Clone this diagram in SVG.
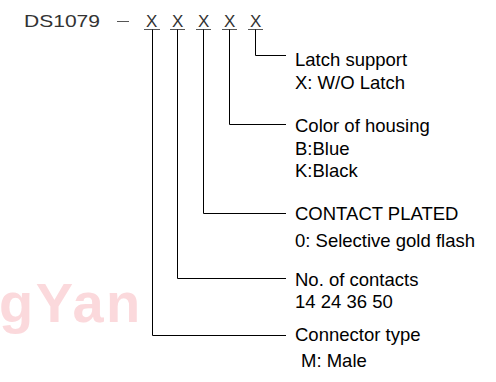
<svg xmlns="http://www.w3.org/2000/svg" width="496" height="382" viewBox="0 0 496 382">
<style>
.t{font-family:"Liberation Sans",Arial,sans-serif;font-size:18.5px;fill:#000}
.h{font-family:"Liberation Sans",Arial,sans-serif;font-size:17px;fill:#333}
.ln{stroke:#000;stroke-width:1;fill:none}
.ul{stroke:#555;stroke-width:1;fill:none}
.wm{font-family:"Liberation Sans",Arial,sans-serif;font-size:56px;font-weight:bold;fill:#fbd9dc;letter-spacing:2.5px}
</style>
<rect width="496" height="382" fill="#fff"/>
<text class="wm" x="-1" y="322">gYan</text>
<g id="header">
<text class="h" x="24" y="27" textLength="76" lengthAdjust="spacingAndGlyphs">DS1079</text>
<line class="ul" x1="117" y1="21.5" x2="129" y2="21.5"/>
<text class="h" x="146" y="27">X</text>
<text class="h" x="172" y="27">X</text>
<text class="h" x="198" y="27">X</text>
<text class="h" x="224" y="27">X</text>
<text class="h" x="250" y="27">X</text>
<line class="ul" x1="144" y1="29.5" x2="160" y2="29.5"/>
<line class="ul" x1="170" y1="29.5" x2="185" y2="29.5"/>
<line class="ul" x1="196" y1="29.5" x2="211" y2="29.5"/>
<line class="ul" x1="222" y1="29.5" x2="237" y2="29.5"/>
<line class="ul" x1="248" y1="29.5" x2="263" y2="29.5"/>
</g>
<g id="connectors">
<polyline class="ln" points="255.5,29.5 255.5,55.5 286,55.5"/>
<polyline class="ln" points="229.5,29.5 229.5,124.5 286,124.5"/>
<polyline class="ln" points="203.5,29.5 203.5,213.5 286,213.5"/>
<polyline class="ln" points="177.5,29.5 177.5,278.5 286,278.5"/>
<polyline class="ln" points="152.5,29.5 152.5,335.5 286,335.5"/>
</g>
<g id="latch">
<text class="t" x="295" y="66">Latch support</text>
<text class="t" x="295" y="89">X: W/O Latch</text>
</g>
<g id="color">
<text class="t" x="295" y="131.5">Color of housing</text>
<text class="t" x="295" y="154.5">B:Blue</text>
<text class="t" x="295" y="177">K:Black</text>
</g>
<g id="plated">
<text class="t" x="295" y="220">CONTACT PLATED</text>
<text class="t" x="295" y="246.5">0: Selective gold flash</text>
</g>
<g id="contacts">
<text class="t" x="295" y="285.5">No. of contacts</text>
<text class="t" x="295" y="307.5">14 24 36 50</text>
</g>
<g id="type">
<text class="t" x="295" y="341">Connector type</text>
<text class="t" x="301" y="366.5">M: Male</text>
</g>
</svg>
